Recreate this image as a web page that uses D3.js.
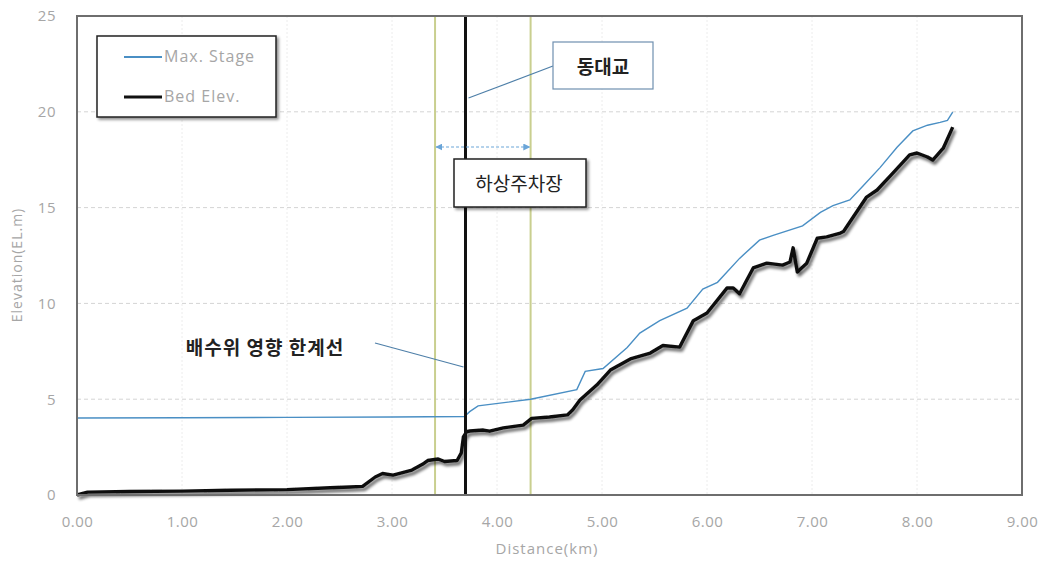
<!DOCTYPE html>
<html><head><meta charset="utf-8">
<script src="https://cdn.jsdelivr.net/npm/d3@7"></script>
<style>
html,body{margin:0;padding:0;background:#fff;}
svg{display:block;}
</style></head>
<body>
<svg id="chart" width="1039" height="562"></svg>
<script>
// ---- data ----
const xTicks = [0,1,2,3,4,5,6,7,8,9];
const yTicks = [0,5,10,15,20,25];
const maxStageKm  = [0.00,1.00,2.00,3.00,3.69,3.74,3.82,4.32,4.76,4.84,5.01,5.24,5.36,5.55,5.81,5.96,6.10,6.31,6.50,6.63,6.91,7.08,7.20,7.36,7.49,7.65,7.81,7.96,8.10,8.22,8.29,8.34];
const maxStageEl  = [4.02,4.03,4.05,4.07,4.10,4.35,4.65,5.00,5.50,6.45,6.60,7.70,8.45,9.10,9.75,10.75,11.10,12.35,13.30,13.55,14.05,14.75,15.10,15.40,16.15,17.10,18.15,19.00,19.30,19.45,19.55,19.98];
const bedKm = [0.00,0.10,0.50,1.00,1.46,2.00,2.41,2.60,2.72,2.84,2.91,3.01,3.19,3.29,3.34,3.44,3.50,3.62,3.66,3.68,3.71,3.74,3.87,3.93,4.06,4.25,4.33,4.50,4.67,4.72,4.79,4.95,5.08,5.27,5.46,5.58,5.74,5.87,6.00,6.19,6.25,6.31,6.44,6.57,6.72,6.79,6.82,6.86,6.95,7.05,7.14,7.27,7.30,7.52,7.62,7.77,7.93,8.00,8.10,8.15,8.25,8.34];
const bedEl = [0.00,0.15,0.18,0.20,0.25,0.28,0.38,0.42,0.45,0.94,1.12,1.04,1.30,1.60,1.80,1.88,1.75,1.80,2.20,3.03,3.30,3.34,3.39,3.33,3.50,3.65,4.00,4.07,4.18,4.44,4.96,5.74,6.52,7.10,7.41,7.80,7.72,9.10,9.50,10.80,10.80,10.50,11.85,12.10,12.00,12.16,12.90,11.64,12.10,13.40,13.47,13.67,13.75,15.55,15.92,16.80,17.75,17.85,17.64,17.48,18.10,19.20];
const boundaryKm = 3.70;            // 배수위 영향 한계선 (동대교)
const parkingKm  = [3.41, 4.32];    // 하상주차장 extent
const labels = {
  bridge: "동대교",
  parking: "하상주차장",
  boundary: "배수위 영향 한계선",
  legend: ["Max. Stage","Bed Elev."],
  xTitle: "Distance(km)",
  yTitle: "Elevation(EL.m)"
};

// ---- layout ----
const svg = d3.select("#chart");
const L = 77, R = 1022, T = 16, B = 495;
const x = d3.scaleLinear().domain([0,9]).range([L,R]);
const y = d3.scaleLinear().domain([0,25]).range([B,T]);
const latin = "'Open Sans', sans-serif";
const kr = "'Noto Sans CJK KR'";

const defs = svg.append("defs");
const sh = defs.append("filter").attr("id","shadow").attr("x","-10%").attr("y","-10%").attr("width","130%").attr("height","150%");
sh.append("feGaussianBlur").attr("in","SourceAlpha").attr("stdDeviation",1.8).attr("result","b");
sh.append("feOffset").attr("in","b").attr("dx",2).attr("dy",3).attr("result","o");
sh.append("feComponentTransfer").attr("in","o").attr("result","o2")
  .append("feFuncA").attr("type","linear").attr("slope",0.6);
const m = sh.append("feMerge"); m.append("feMergeNode").attr("in","o2"); m.append("feMergeNode").attr("in","SourceGraphic");

const boxSh = defs.append("filter").attr("id","boxshadow").attr("x","-10%").attr("y","-10%").attr("width","130%").attr("height","140%");
boxSh.append("feGaussianBlur").attr("in","SourceAlpha").attr("stdDeviation",1.5).attr("result","b");
boxSh.append("feOffset").attr("in","b").attr("dx",2).attr("dy",2).attr("result","o");
boxSh.append("feComponentTransfer").attr("in","o").attr("result","o2").append("feFuncA").attr("type","linear").attr("slope",0.45);
const m2 = boxSh.append("feMerge"); m2.append("feMergeNode").attr("in","o2"); m2.append("feMergeNode").attr("in","SourceGraphic");

defs.append("marker").attr("id","arr").attr("viewBox","0 0 10 10").attr("refX",9).attr("refY",5)
  .attr("markerWidth",7).attr("markerHeight",7).attr("markerUnits","userSpaceOnUse").attr("orient","auto-start-reverse")
  .append("path").attr("d","M0,0 L10,5 L0,10 z").attr("fill","#6aa5d8");

// grid
svg.append("g").selectAll("line").data(yTicks.filter(d=>d>0&&d<25)).join("line")
  .attr("x1",L).attr("x2",R).attr("y1",d=>y(d)).attr("y2",d=>y(d))
  .attr("stroke","#d4d4d4").attr("stroke-width",1).attr("stroke-dasharray","4,3");
svg.append("g").selectAll("line").data(xTicks.filter(d=>d>0&&d<9)).join("line")
  .attr("x1",d=>x(d)).attr("x2",d=>x(d)).attr("y1",T).attr("y2",B)
  .attr("stroke","#ececec").attr("stroke-width",1).attr("stroke-dasharray","2,2");

// axes labels
const axX = svg.append("g").attr("transform",`translate(0,${B})`)
  .call(d3.axisBottom(x).tickValues(xTicks).tickFormat(d3.format(".2f")).tickSize(0).tickPadding(21));
const axY = svg.append("g").attr("transform",`translate(${L},0)`)
  .call(d3.axisLeft(y).tickValues(yTicks).tickSize(0).tickPadding(21));
[axX,axY].forEach(a=>{ a.select(".domain").remove();
  a.selectAll("text").attr("fill","#a6a6a6").attr("font-family",latin).attr("font-size",15).attr("letter-spacing",0.5); });

svg.append("text").attr("x",547).attr("y",554).attr("text-anchor","middle")
  .attr("fill","#a6a6a6").attr("font-family",latin).attr("font-size",15).attr("letter-spacing",1).text(labels.xTitle);
svg.append("text").attr("transform",`translate(22,265) rotate(-90)`).attr("text-anchor","middle")
  .attr("fill","#a6a6a6").attr("font-family",latin).attr("font-size",14).attr("letter-spacing",1).text(labels.yTitle);

// parking extent lines
svg.append("g").selectAll("line").data(parkingKm).join("line")
  .attr("x1",d=>x(d)).attr("x2",d=>x(d)).attr("y1",T).attr("y2",B)
  .attr("stroke","#c9cf8f").attr("stroke-width",2);

// lines
const lineGen = d3.line().x(d=>x(d[0])).y(d=>y(d[1]));
svg.append("path").datum(bedKm.map((k,i)=>[k,bedEl[i]]))
  .attr("d",lineGen).attr("fill","none").attr("stroke","#111").attr("stroke-width",3.4)
  .attr("stroke-linejoin","round").attr("filter","url(#shadow)");
svg.append("path").datum(maxStageKm.map((k,i)=>[k,maxStageEl[i]]))
  .attr("d",lineGen).attr("fill","none").attr("stroke","#4a8fc4").attr("stroke-width",1.4);

// boundary vertical
svg.append("line").attr("x1",x(boundaryKm)).attr("x2",x(boundaryKm)).attr("y1",T).attr("y2",B)
  .attr("stroke","#111").attr("stroke-width",3);

// plot frame
svg.append("rect").attr("x",L).attr("y",T).attr("width",R-L).attr("height",B-T)
  .attr("fill","none").attr("stroke","#6e6e6e").attr("stroke-width",2);

// arrow for parking
svg.append("line").attr("x1",x(parkingKm[0])+1).attr("x2",x(parkingKm[1])-1).attr("y1",147).attr("y2",147)
  .attr("stroke","#6aa5d8").attr("stroke-width",1.2).attr("stroke-dasharray","3,2")
  .attr("marker-start","url(#arr)").attr("marker-end","url(#arr)");

// bridge callout
svg.append("line").attr("x1",x(boundaryKm)+3).attr("y1",98).attr("x2",553).attr("y2",66)
  .attr("stroke","#4e7fa8").attr("stroke-width",1.2);
svg.append("rect").attr("x",553).attr("y",42).attr("width",100).attr("height",47)
  .attr("fill","#fff").attr("stroke","#6f8fb0").attr("stroke-width",1.2);
svg.append("text").attr("x",603).attr("y",74).attr("text-anchor","middle")
  .attr("font-family",kr).attr("font-weight","bold").attr("font-size",19).attr("fill","#222").text(labels.bridge);

// parking callout
svg.append("rect").attr("x",454).attr("y",159).attr("width",132).attr("height",48)
  .attr("fill","#fff").attr("stroke","#222").attr("stroke-width",1.5).attr("filter","url(#boxshadow)");
svg.append("text").attr("x",519).attr("y",191).attr("text-anchor","middle")
  .attr("font-family",kr).attr("font-size",19).attr("fill","#222").text(labels.parking);

// boundary callout
svg.append("line").attr("x1",375).attr("y1",343).attr("x2",x(boundaryKm)-2).attr("y2",367)
  .attr("stroke","#4e7fa8").attr("stroke-width",1.2);
svg.append("text").attr("x",265).attr("y",355).attr("text-anchor","middle")
  .attr("font-family",kr).attr("font-weight","bold").attr("font-size",19).attr("letter-spacing",1).attr("fill","#222").text(labels.boundary);

// legend
const lg = svg.append("g");
lg.append("rect").attr("x",97).attr("y",36).attr("width",179).attr("height",81)
  .attr("fill","#fff").attr("stroke","#222").attr("stroke-width",1.5).attr("filter","url(#boxshadow)");
const lgItems = [{c:"#4a8fc4",w:1.8,t:labels.legend[0],yy:57},{c:"#111",w:3.2,t:labels.legend[1],yy:97}];
lgItems.forEach(it=>{
  lg.append("line").attr("x1",124).attr("x2",162).attr("y1",it.yy).attr("y2",it.yy).attr("stroke",it.c).attr("stroke-width",it.w);
  lg.append("text").attr("x",164).attr("y",it.yy+5).attr("fill","#a6a6a6")
    .attr("font-family",latin).attr("font-size",16).attr("letter-spacing",1).text(it.t);
});
</script>
</body></html>
